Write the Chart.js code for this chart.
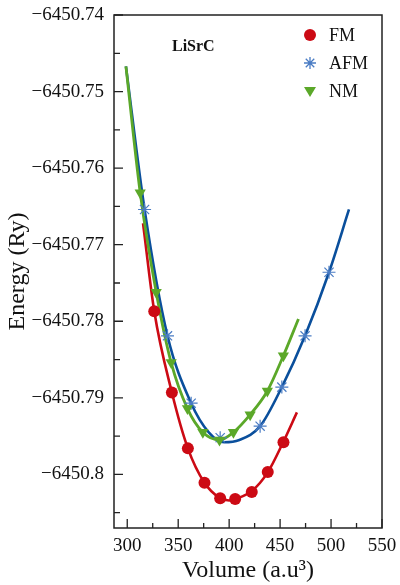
<!DOCTYPE html>
<html>
<head>
<meta charset="utf-8">
<script src="https://cdn.jsdelivr.net/npm/chart.js@4/dist/chart.umd.min.js"></script>
<style>
  html, body { margin: 0; padding: 0; background: #fff; }
  #wrap { width: 400px; height: 585px; position: relative; }
</style>
</head>
<body>
<div id="wrap"><canvas id="eosChart" width="400" height="585"></canvas></div>
<script>
// ── Data ─────────────────────────────────────────────────────
const fmVol  = [326.5, 343.8, 359.5, 375.8, 391.2, 405.9, 422.2, 437.9, 453.3];
const fmE    = [-6450.7787, -6450.7893, -6450.7966, -6450.8011, -6450.8031, -6450.8032, -6450.8023, -6450.7997, -6450.7958];

const afmVol = [317, 339.5, 362.7, 391.2, 430.4, 451.7, 474.5, 498];
const afmE   = [-6450.7654, -6450.7819, -6450.7907, -6450.7952, -6450.7937, -6450.7886, -6450.7819, -6450.7736];

const nmVol  = [312.7, 328.4, 343.1, 359.1, 374.2, 390.5, 404.2, 420.6, 437.5, 453.2];
const nmE    = [-6450.7632, -6450.7762, -6450.7854, -6450.7914, -6450.7945, -6450.7955, -6450.7945, -6450.7922, -6450.7891, -6450.7845];

// fitted curves
const fmFitVol  = [315.5, 326.5, 343.8, 359.5, 375.8, 391, 400, 406, 422, 438, 453, 466.5];
const fmFitE    = [-6450.7672, -6450.7787, -6450.7893, -6450.7966, -6450.8011, -6450.8031, -6450.8034, -6450.8032, -6450.8022, -6450.7997, -6450.7958, -6450.7919];
const afmFitVol = [298.7, 317, 339.5, 362.7, 380, 395, 410, 430.4, 451.7, 474.5, 498, 517.6];
const afmFitE   = [-6450.7467, -6450.7654, -6450.7819, -6450.7907, -6450.7945, -6450.7958, -6450.7955, -6450.7937, -6450.7886, -6450.7819, -6450.7736, -6450.7654];
const nmFitVol  = [298.7, 312.7, 328.4, 343.1, 359.1, 374.2, 390.5, 404.2, 420.6, 437.5, 453.2, 468];
const nmFitE    = [-6450.7467, -6450.7632, -6450.7762, -6450.7854, -6450.7914, -6450.7945, -6450.7955, -6450.7945, -6450.7922, -6450.7891, -6450.7845, -6450.7797];

// axes
const xTicks      = [300, 350, 400, 450, 500, 550];
const xMinorTicks = [325, 375, 425, 475, 525];
const yTicks      = [-6450.74, -6450.75, -6450.76, -6450.77, -6450.78, -6450.79, -6450.80];
const yTickLabels = ["\u22126450.74", "\u22126450.75", "\u22126450.76", "\u22126450.77", "\u22126450.78", "\u22126450.79", "\u22126450.8"];
const yMinorTicks = [-6450.745, -6450.755, -6450.765, -6450.775, -6450.785, -6450.795, -6450.805];

const seriesNames = ["FM", "AFM", "NM"];

// ── Style ────────────────────────────────────────────────────
const RED   = "#cc0a14";
const BLUE  = "#0a4f9c";
const BLUE2 = "#4a7cc4";
const GREEN = "#5ba829";
const SERIF = "'Liberation Serif', 'Times New Roman', serif";

const pts = (xs, ys) => xs.map((x, i) => ({ x, y: ys[i] }));

// kill label-overflow padding so layout.padding alone places the plot box
function noOverflow(s) {
  s.paddingTop = 0; s.paddingBottom = 0; s.paddingLeft = 0; s.paddingRight = 0;
}

// ── Frame, inward ticks, inset label + legend ────────────────
const decor = {
  id: "decor",
  afterDraw(chart) {
    const { ctx, chartArea: a, scales: { x, y } } = chart;
    ctx.save();
    ctx.strokeStyle = "#222";
    ctx.lineWidth = 1.5;
    ctx.strokeRect(a.left, a.top, a.right - a.left, a.bottom - a.top);

    ctx.lineWidth = 1.3;
    ctx.beginPath();
    xTicks.forEach(v => { const px = x.getPixelForValue(v); ctx.moveTo(px, a.bottom); ctx.lineTo(px, a.bottom - 9); });
    xMinorTicks.forEach(v => { const px = x.getPixelForValue(v); ctx.moveTo(px, a.bottom); ctx.lineTo(px, a.bottom - 5); });
    yTicks.forEach(v => { const py = y.getPixelForValue(v); ctx.moveTo(a.left, py); ctx.lineTo(a.left + 9, py); });
    yMinorTicks.forEach(v => { const py = y.getPixelForValue(v); ctx.moveTo(a.left, py); ctx.lineTo(a.left + 6, py); });
    ctx.stroke();

    // compound label
    ctx.fillStyle = "#111";
    ctx.font = "bold 16px " + SERIF;
    ctx.textBaseline = "middle";
    ctx.textAlign = "left";
    ctx.fillText("LiSrC", 172, 47);

    // legend
    const lx = 310, ly = [35, 63, 91];
    ctx.fillStyle = RED;
    ctx.beginPath(); ctx.arc(lx, ly[0], 6, 0, Math.PI * 2); ctx.fill();

    ctx.strokeStyle = BLUE2; ctx.lineWidth = 1.3;
    ctx.beginPath();
    for (let k = 0; k < 4; k++) {
      const ang = k * Math.PI / 4;
      ctx.moveTo(lx - 6 * Math.cos(ang), ly[1] - 6 * Math.sin(ang));
      ctx.lineTo(lx + 6 * Math.cos(ang), ly[1] + 6 * Math.sin(ang));
    }
    ctx.stroke();

    ctx.fillStyle = GREEN;
    ctx.beginPath();
    ctx.moveTo(lx - 6, ly[2] - 4); ctx.lineTo(lx + 6, ly[2] - 4); ctx.lineTo(lx, ly[2] + 6); ctx.closePath();
    ctx.fill();

    ctx.fillStyle = "#111";
    ctx.font = "18px " + SERIF;
    seriesNames.forEach((n, i) => ctx.fillText(n, 329, ly[i] + 1));
    ctx.restore();
  }
};

new Chart(document.getElementById("eosChart"), {
  type: "scatter",
  data: {
    datasets: [
      { label: "FM fit",  data: pts(fmFitVol, fmFitE),   showLine: true, borderColor: RED,   borderWidth: 2.6, pointRadius: 0, cubicInterpolationMode: "monotone", order: 6 },
      { label: "AFM fit", data: pts(afmFitVol, afmFitE), showLine: true, borderColor: BLUE,  borderWidth: 2.6, pointRadius: 0, cubicInterpolationMode: "monotone", order: 5 },
      { label: "NM fit",  data: pts(nmFitVol, nmFitE),   showLine: true, borderColor: GREEN, borderWidth: 2.8, pointRadius: 0, cubicInterpolationMode: "monotone", order: 4 },
      { label: "FM",  data: pts(fmVol, fmE),   pointStyle: "circle", pointRadius: 6, backgroundColor: RED, borderColor: RED, borderWidth: 0, order: 3 },
      { label: "AFM", data: pts(afmVol, afmE), pointStyle: "star", pointRadius: 6.5, backgroundColor: BLUE2, borderColor: BLUE2, borderWidth: 1.2, order: 2 },
      { label: "NM",  data: pts(nmVol, nmE),   pointStyle: "triangle", rotation: 180, pointRadius: 6.5, backgroundColor: GREEN, borderColor: GREEN, borderWidth: 0, order: 1 },
    ],
  },
  options: {
    responsive: false,
    animation: false,
    devicePixelRatio: 1,
    layout: { padding: { left: 0, top: 15, right: 18, bottom: 0 } },
    plugins: { legend: { display: false }, tooltip: { enabled: false } },
    scales: {
      x: {
        type: "linear",
        min: 287, max: 550,
        afterFit: (s) => { s.height = 57; noOverflow(s); },
        afterBuildTicks: (s) => { s.ticks = xTicks.map(v => ({ value: v })); },
        grid: { display: false, drawTicks: false },
        border: { display: false },
        ticks: { autoSkip: false, maxRotation: 0, padding: 7, color: "#111", font: { family: SERIF, size: 19 } },
        title: { display: true, text: "Volume (a.u\u00b3)", color: "#111", font: { family: SERIF, size: 24 }, padding: { top: 3, bottom: 0 } },
      },
      y: {
        type: "linear",
        min: -6450.807, max: -6450.74,
        afterFit: (s) => { s.width = 114; noOverflow(s); },
        afterBuildTicks: (s) => { s.ticks = yTicks.map(v => ({ value: v })); },
        grid: { display: false, drawTicks: false },
        border: { display: false },
        ticks: {
          autoSkip: false, padding: 10, color: "#111", font: { family: SERIF, size: 19 },
          callback: (v, i) => yTickLabels[i],
        },
        title: { display: true, text: "Energy (Ry)", color: "#111", font: { family: SERIF, size: 24 }, padding: { top: 3, bottom: 0 } },
      },
    },
  },
  plugins: [decor],
});
</script>
</body>
</html>
